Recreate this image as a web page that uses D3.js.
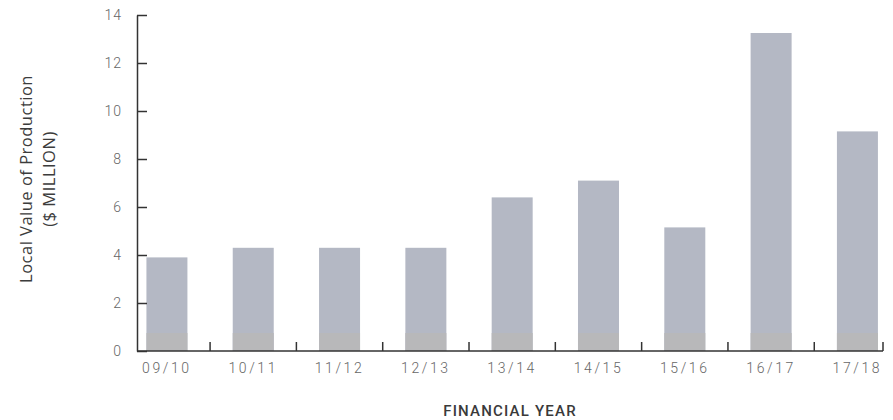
<!DOCTYPE html>
<html>
<head>
<meta charset="utf-8">
<script src="https://cdn.jsdelivr.net/npm/d3@7"></script>
<style>
  html, body { margin: 0; padding: 0; background: #ffffff; }
  svg { display: block; }
  text { font-family: Roboto, "Open Sans", sans-serif; }
</style>
</head>
<body>
<svg id="chart" width="893" height="420"></svg>
<script>
// Financial years on the x axis
const years = ["09/10", "10/11", "11/12", "12/13", "13/14", "14/15", "15/16", "16/17", "17/18"];
// Local value of production, $ million
const values = [3.9, 4.3, 4.3, 4.3, 6.4, 7.1, 5.15, 13.25, 9.15];
// Lower portion of each bar, drawn in a warmer grey
const baseValues = [0.75, 0.75, 0.75, 0.75, 0.75, 0.75, 0.75, 0.75, 0.75];
// Y axis tick values
const yTicks = [0, 2, 4, 6, 8, 10, 12, 14];

const svg = d3.select("#chart");
const plotLeft = 137, plotRight = 883, plotTop = 15, plotBottom = 351;

const x = d3.scaleBand()
  .domain(years)
  .range([plotLeft, plotRight])
  .paddingInner(0.525)
  .paddingOuter(0.084)
  .align(0.65);

const y = d3.scaleLinear()
  .domain([0, 14])
  .range([plotBottom, plotTop]);

// Bars: main body
svg.append("g")
  .selectAll("rect")
  .data(years)
  .join("rect")
  .attr("x", d => x(d))
  .attr("width", x.bandwidth())
  .attr("y", (d, i) => y(values[i]))
  .attr("height", (d, i) => y(0) - y(values[i]))
  .attr("fill", "#b4b8c4");

// Bars: lower portion
svg.append("g")
  .selectAll("rect")
  .data(years)
  .join("rect")
  .attr("x", d => x(d))
  .attr("width", x.bandwidth())
  .attr("y", (d, i) => y(baseValues[i]))
  .attr("height", (d, i) => y(0) - y(baseValues[i]))
  .attr("fill", "#b8b8ba");

// Y axis with inward ticks
const yAxis = d3.axisLeft(y)
  .tickValues(yTicks)
  .tickSize(-10)
  .tickPadding(15)
  .tickSizeOuter(0);

const gy = svg.append("g")
  .attr("transform", `translate(${plotLeft},0)`)
  .call(yAxis);
gy.select(".domain").attr("stroke", "#333").attr("stroke-width", 1.5);
gy.selectAll(".tick line").attr("stroke", "#333").attr("stroke-width", 1.5);
gy.selectAll(".tick text")
  .attr("fill", "#666")
  .style("font-size", "14px")
  .style("font-weight", 300)
  .style("letter-spacing", "1px")
  .attr("dy", "0.35em");

// X axis: baseline, separators between years, labels under bars
const gx = svg.append("g");
gx.append("line")
  .attr("x1", plotLeft).attr("x2", plotRight)
  .attr("y1", y(0)).attr("y2", y(0))
  .attr("stroke", "#333").attr("stroke-width", 1.5);

const gap = x.step() - x.bandwidth();
const sepX = years.map((d, i) => i < years.length - 1 ? x(d) + x.bandwidth() + gap / 2 : plotRight);
gx.selectAll("line.sep")
  .data(sepX)
  .join("line")
  .attr("class", "sep")
  .attr("x1", d => d).attr("x2", d => d)
  .attr("y1", y(0)).attr("y2", y(0) - 9)
  .attr("stroke", "#333").attr("stroke-width", 1.5);

gx.selectAll("text")
  .data(years)
  .join("text")
  .attr("x", d => x(d) + x.bandwidth() / 2)
  .attr("y", 373)
  .attr("text-anchor", "middle")
  .attr("fill", "#666")
  .style("font-size", "14px")
  .style("font-weight", 300)
  .style("letter-spacing", "2.6px")
  .text(d => d);

// Axis titles
const yt = svg.append("text")
  .attr("transform", "translate(32,179) rotate(-90)")
  .attr("text-anchor", "middle")
  .attr("fill", "#3c3c3c")
  .style("font-family", "'Open Sans', sans-serif")
  .style("font-size", "16.5px")
  .style("letter-spacing", "0.5px");
yt.append("tspan").attr("x", 0).attr("dy", 0).text("Local Value of Production");
yt.append("tspan").attr("x", 0).attr("dy", 23).text("($ MILLION)");

svg.append("text")
  .attr("x", 510)
  .attr("y", 416)
  .attr("text-anchor", "middle")
  .attr("fill", "#3a3a3a")
  .style("font-size", "15px")
  .style("font-weight", 500)
  .style("letter-spacing", "1.2px")
  .text("FINANCIAL YEAR");
</script>
</body>
</html>
